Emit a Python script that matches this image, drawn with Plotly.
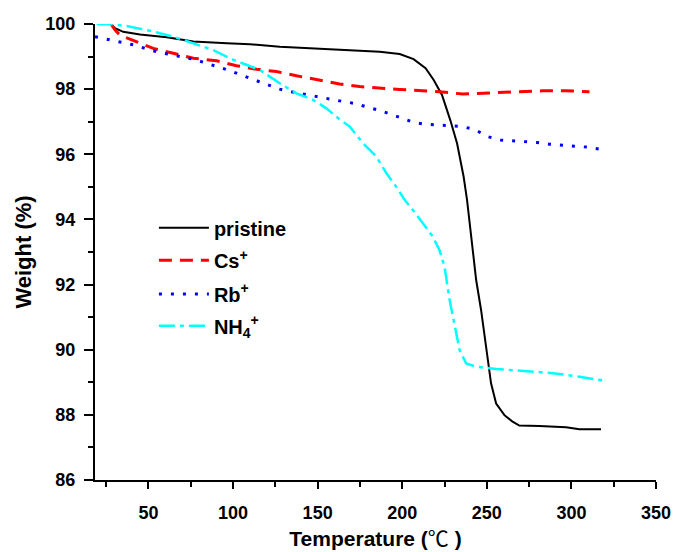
import plotly.graph_objects as go

# ---- data ----
pristine_x = [27.8, 30.2, 35.1, 45, 60.8, 76.5, 96.3, 110, 127.6, 157.1, 186.7, 198.5, 206.7, 213.8,
              218.6, 223.5, 228.4, 232.4, 236.3, 238.3, 241.7, 243.7, 246.6, 249.6, 252.5, 255.5,
              260.4, 265, 269.2, 281, 296.8, 304.8, 317.5]
pristine_y = [100.0, 99.87, 99.76, 99.68, 99.59, 99.46, 99.41, 99.38, 99.30, 99.22, 99.15, 99.08, 98.92,
              98.64, 98.28, 97.82, 97.05, 96.34, 95.31, 94.6, 93.06, 92.14, 91.22, 90.09, 88.97, 88.35,
              87.99, 87.8, 87.67, 87.66, 87.62, 87.56, 87.56]

cs_x = [27.8, 30.2, 33.1, 41, 52.8, 64.7, 76.5, 90.2, 102, 113.9, 125.7, 137.5, 150.2, 163, 174.8,
        186.6, 198.5, 212.2, 222, 235.8, 247.6, 259.4, 272.2, 283, 296.8, 310.7]
cs_y = [100.0, 99.82, 99.66, 99.49, 99.25, 99.10, 98.95, 98.87, 98.72, 98.61, 98.54, 98.41, 98.28, 98.16,
        98.08, 98.03, 97.99, 97.95, 97.92, 97.85, 97.87, 97.89, 97.93, 97.95, 97.95, 97.92]

rb_x = [18.4, 25.3, 33.2, 41, 54.8, 68.6, 76.4, 83.4, 91.2, 98.1, 104.9, 112.9, 119.8, 127.6, 134.5,
        141.4, 149.3, 156.1, 163, 170.9, 177.8, 185.7, 192.7, 200.4, 207.3, 214.2, 222, 229, 235.8,
        243.3, 250.6, 258.1, 265.4, 272.7, 279.8, 287, 294.5, 301.8, 309.2, 316.4]
rb_y = [99.61, 99.53, 99.43, 99.36, 99.15, 99.0, 98.92, 98.81, 98.69, 98.57, 98.43, 98.28, 98.16, 98.0,
        97.92, 97.85, 97.77, 97.69, 97.64, 97.57, 97.48, 97.36, 97.24, 97.10, 96.97, 96.92, 96.90,
        96.87, 96.85, 96.75, 96.54, 96.44, 96.42, 96.39, 96.36, 96.31, 96.27, 96.25, 96.22, 96.16]

nh4_x = [19.4, 27.2, 37.1, 50.9, 64.7, 76.5, 88.3, 100.2, 108, 115.8, 127.6, 137.5, 147.3, 155.2, 161.1,
         169, 176.8, 184.7, 190.6, 196.5, 201.4, 206.3, 212.2, 218.1, 222, 225, 228, 230.9, 233.9,
         237.8, 243.7, 255.5, 271.3, 289, 304.8, 319.6]
nh4_y = [100.0, 99.99, 99.94, 99.79, 99.61, 99.41, 99.2, 98.9, 98.74, 98.59, 98.18, 97.87, 97.67, 97.41,
         97.15, 96.85, 96.34, 95.93, 95.42, 95.0, 94.60, 94.29, 93.88, 93.47, 93.06, 92.55, 91.53,
         90.71, 89.99, 89.58, 89.48, 89.41, 89.35, 89.28, 89.17, 89.05]

x_ticks = [50, 100, 150, 200, 250, 300, 350]
y_ticks = [86, 88, 90, 92, 94, 96, 98, 100]

FONT = "Liberation Sans, Arial"

fig = go.Figure()
fig.add_trace(go.Scatter(x=pristine_x, y=pristine_y, mode="lines", name="pristine", legend="legend",
                         line=dict(color="black", width=2, dash="solid")))
fig.add_trace(go.Scatter(x=cs_x, y=cs_y, mode="lines", name="Cs<sup>+</sup>", legend="legend2",
                         line=dict(color="#ff0000", width=3, dash="13px,8px")))
fig.add_trace(go.Scatter(x=rb_x, y=rb_y, mode="lines", name="Rb<sup>+</sup>", legend="legend3",
                         line=dict(color="#0000ff", width=3, dash="3px,9px")))
fig.add_trace(go.Scatter(x=nh4_x, y=nh4_y, mode="lines", name="NH<sub>4</sub><sup>+</sup>", legend="legend4",
                         line=dict(color="#00ffff", width=2.5, dash="16px,5px,4px,5px")))

axis_common = dict(
    showgrid=False, zeroline=False, showline=True, linecolor="black", linewidth=2,
    ticks="outside", tickwidth=1.5, tickcolor="black", automargin=False,
    mirror=False,
    tickfont=dict(family=FONT, size=18, color="black", weight="bold"),
)

fig.update_xaxes(range=[18.4, 350], tickvals=x_ticks, ticklen=7, ticklabelstandoff=8,
                 minor=dict(ticks="outside", ticklen=5, tickwidth=1.5, tickcolor="black", dtick=25, tick0=0),
                 title=dict(text="Temperature (<span style=\"font-family:'Noto Sans CJK SC';font-weight:normal\">℃</span> )",
                            font=dict(family=FONT, size=21, color="black", weight="bold"),
                            standoff=10),
                 **axis_common)
fig.update_yaxes(range=[86, 100], tickvals=y_ticks, ticklen=9, ticklabelstandoff=5,
                 minor=dict(ticks="outside", ticklen=5, tickwidth=1.5, tickcolor="black", dtick=1, tick0=0),
                 title=dict(text="Weight (%)", font=dict(family=FONT, size=22, color="black", weight="bold"),
                            standoff=8),
                 **axis_common)

leg_common = dict(xanchor="left", yanchor="middle", itemwidth=50, visible=True,
                  font=dict(family=FONT, size=20, color="black", weight="bold"),
                  bgcolor="rgba(0,0,0,0)")
fig.update_layout(
    width=673, height=552,
    margin=dict(l=95, r=17, t=24, b=72),
    paper_bgcolor="white", plot_bgcolor="white",
    font=dict(family=FONT, color="black"),
    showlegend=True,
    legend=dict(x=0.105, y=0.553, **leg_common),
    legend2=dict(x=0.105, y=0.482, **leg_common),
    legend3=dict(x=0.105, y=0.408, **leg_common),
    legend4=dict(x=0.105, y=0.338, **leg_common),
)

# remove the default 8px page margin so the figure fills the window exactly
fig.write_html("out.html", config={"displayModeBar": False},
               post_script="document.body.style.margin='0';document.body.style.overflow='hidden';")
